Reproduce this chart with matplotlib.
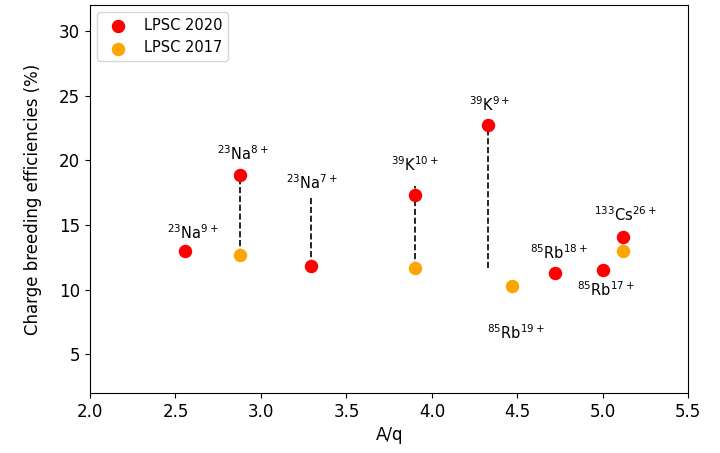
import matplotlib
matplotlib.use("Agg")
import matplotlib.pyplot as plt

# LPSC 2020
aq_2020 = [2.556, 2.88, 3.29, 3.90, 4.33, 4.72, 5.00, 5.12]
eff_2020 = [13.0, 18.9, 11.8, 17.3, 22.7, 11.3, 11.5, 14.1]

# LPSC 2017
aq_2017 = [2.88, 3.90, 4.47, 5.12]
eff_2017 = [12.7, 11.7, 10.3, 13.0]

# dashed links (x, ymin, ymax)
link_x = [2.88, 3.29, 3.90, 4.33, 5.12]
link_lo = [12.7, 11.8, 11.7, 11.7, 13.0]
link_hi = [18.9, 17.1, 18.0, 22.7, 14.1]

# ion labels
ion_labels = [r'$^{23}$Na$^{9+}$', r'$^{23}$Na$^{8+}$', r'$^{23}$Na$^{7+}$',
              r'$^{39}$K$^{10+}$', r'$^{39}$K$^{9+}$', r'$^{85}$Rb$^{19+}$',
              r'$^{85}$Rb$^{18+}$', r'$^{85}$Rb$^{17+}$', r'$^{133}$Cs$^{26+}$']
label_x = [2.60, 2.895, 3.30, 3.90, 4.34, 4.49, 4.74, 5.02, 5.13]
label_y = [14.4, 20.5, 18.3, 19.7, 24.3, 6.7, 12.9, 10.0, 15.8]

fig, ax = plt.subplots(figsize=(7.2, 4.53), dpi=100)
fig.subplots_adjust(left=0.125, right=0.956, top=0.989, bottom=0.132)

ax.vlines(link_x, link_lo, link_hi, colors='k', linestyles='--', linewidth=1.2, zorder=1)
ax.scatter(aq_2020, eff_2020, s=75, color='red', label='LPSC 2020', zorder=3)
ax.scatter(aq_2017, eff_2017, s=75, color='orange', label='LPSC 2017', zorder=2)

for t, x, y in zip(ion_labels, label_x, label_y):
    ax.text(x, y, t, ha='center', va='center', fontsize=10.5)

ax.set_xlim(2.0, 5.5)
ax.set_ylim(2, 32)
ax.set_yticks([5, 10, 15, 20, 25, 30])
ax.tick_params(labelsize=12)
ax.set_xlabel('A/q', fontsize=12)
ax.set_ylabel('Charge breeding efficiencies (%)', fontsize=12, labelpad=12)
ax.legend(loc='upper left', fontsize=10.5)

plt.savefig('out.png', dpi=100)
